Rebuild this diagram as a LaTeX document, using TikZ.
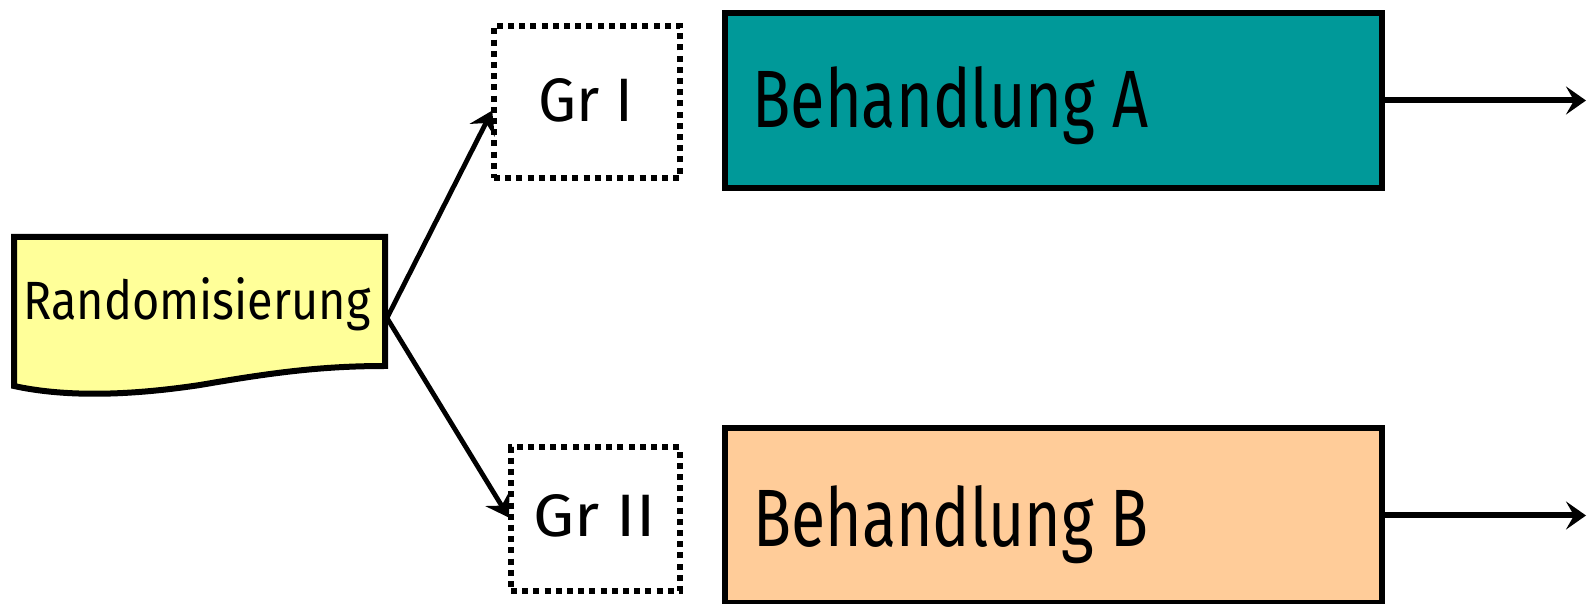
\documentclass[tikz,border=0pt]{standalone}
\usepackage{fontspec}
\setmainfont{Fira Sans}
\usepackage{graphicx}
\usetikzlibrary{arrows.meta}
\definecolor{tealfill}{HTML}{009999}
\definecolor{peachfill}{HTML}{FFCC99}
\definecolor{notefill}{HTML}{FFFF99}
\tikzset{
  solidbox/.style={draw=black, line width=3pt, rectangle, inner sep=0pt, outer sep=0pt, anchor=north west},
  groupbox/.style={draw=black, line width=3pt, dash pattern=on 3pt off 2.6pt, rectangle, inner sep=0pt, outer sep=0pt, anchor=north west},
  boxtext/.style={inner sep=0pt, anchor=base west},
  flow/.style={line width=2.4pt, -{Stealth[length=11pt, width=14pt, inset=4pt]}},
  outflow/.style={line width=3pt, -{Stealth[length=10pt, width=14pt, inset=4pt]}},
}
\begin{document}
\begin{tikzpicture}[x=0.5pt, y=-0.5pt]
  \useasboundingbox (0,0) rectangle (1587,604);
  \clip (0,0) rectangle (1587,604);

  % randomisation note with wavy lower edge
  \draw[line width=3pt, fill=notefill, line join=miter]
    (14,237) -- (385,237) -- (385,366)
    .. controls (320,366) and (270,373) .. (200,385)
    .. controls (120,397) and (60,396) .. (14,386) -- cycle;
  \node[boxtext] (rand) at (23,320) {\resizebox{173.5pt}{21pt}{Randomisierung}};
  \coordinate (rs) at (387,318);

  % group boxes
  \node[groupbox, minimum width=93pt, minimum height=76pt] (g1) at (494,26) {};
  \node[groupbox, minimum width=84.5pt, minimum height=72pt] (g2) at (511,447) {};
  \node[boxtext] (g1t) at (538,122) {\resizebox{47.5pt}{21.5pt}{Gr I}};
  \node[boxtext] (g2t) at (533,537) {\resizebox{61pt}{21pt}{Gr II}};

  % treatment boxes
  \node[solidbox, fill=tealfill, minimum width=328.5pt, minimum height=87.5pt] (ba) at (725,13) {};
  \node[solidbox, fill=peachfill, minimum width=328.5pt, minimum height=87.5pt] (bb) at (725,428) {};
  \node[boxtext] (bat) at (752,128) {\resizebox{198pt}{30.5pt}{Behandlung A}};
  \node[boxtext] (bbt) at (753,547) {\resizebox{197.5pt}{30.5pt}{Behandlung B}};

  % connectors
  \draw[flow, shorten >=2pt] (rs) -- ([yshift=-2.5pt]g1.west);
  \draw[flow, shorten >=2pt] (rs) -- ([yshift=-1pt]g2.west);

  \coordinate (ea) at (1586,101);
  \coordinate (eb) at (1586,523);
  \draw[outflow] (ba.east) -- (ba.east -| ea);
  \draw[outflow] (bb.east) -- (bb.east -| eb);
\end{tikzpicture}
\end{document}
